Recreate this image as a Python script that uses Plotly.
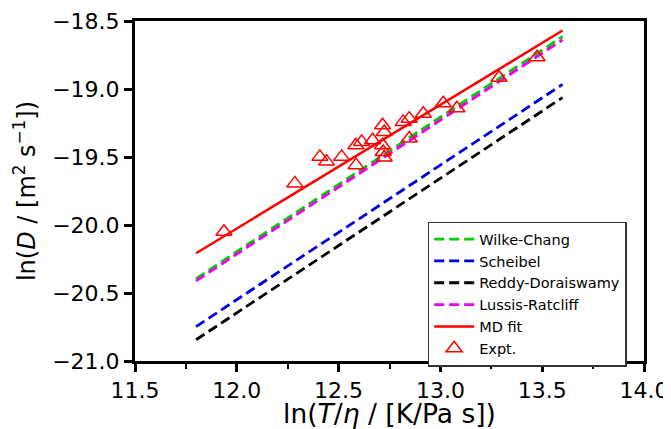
import plotly.graph_objects as go

# Model lines: endpoints at x = 11.8 and 13.6
x_line = [11.8, 13.6]
wilke_chang = [-20.394, -18.614]
scheibel = [-20.747, -18.966]
reddy_doraiswamy = [-20.844, -19.063]
lussis_ratcliff = [-20.411, -18.638]
md_fit = [-20.208, -18.570]

# Experimental points
expt_x = [11.937, 12.285, 12.408, 12.441, 12.515, 12.585, 12.586, 12.613, 12.667,
          12.716, 12.724, 12.716, 12.719, 12.724, 12.817, 12.847, 12.847, 12.916,
          13.014, 13.081, 13.288, 13.475]
expt_y = [-20.050, -19.694, -19.499, -19.534, -19.499, -19.413, -19.560, -19.389, -19.377,
          -19.267, -19.316, -19.413, -19.463, -19.504, -19.242, -19.218, -19.364, -19.182,
          -19.105, -19.141, -18.917, -18.766]

x_ticks = [11.5, 12.0, 12.5, 13.0, 13.5, 14.0]
y_ticks = [-21.0, -20.5, -20.0, -19.5, -19.0, -18.5]

FONT = "DejaVu Sans"

fig = go.Figure()
dash = "10px,5px"
for name, ys, col in [("Wilke-Chang", wilke_chang, "#00cc00"),
                      ("Scheibel", scheibel, "#0000dd"),
                      ("Reddy-Doraiswamy", reddy_doraiswamy, "#000000"),
                      ("Lussis-Ratcliff", lussis_ratcliff, "#ee00ee")]:
    fig.add_trace(go.Scatter(x=x_line, y=ys, mode="lines", name=name,
                             line=dict(color=col, width=2.8, dash=dash)))
fig.add_trace(go.Scatter(x=x_line, y=md_fit, mode="lines", name="MD fit",
                         line=dict(color="#ff0000", width=2.5)))
fig.add_trace(go.Scatter(x=expt_x, y=expt_y, mode="markers", name="Expt.",
                         marker=dict(symbol="triangle-up-open", size=14,
                                     color="#ff0000", line=dict(width=1.5, color="#ff0000"))))

# page body has an 8px default margin, so the figure is 8px smaller than the window
fig.update_layout(
    width=663, height=421,
    margin=dict(l=127, r=27, t=13, b=68),
    plot_bgcolor="white", paper_bgcolor="white",
    font=dict(family=FONT, color="black", size=20),
    showlegend=True,
    legend=dict(x=0.575, y=0.41, xanchor="left", yanchor="top",
                bgcolor="white", bordercolor="#333333", borderwidth=1.5,
                font=dict(family=FONT, size=14.5), tracegroupgap=0,
                itemwidth=40),
)
fig.update_xaxes(
    range=[11.5, 14.0], tickvals=x_ticks, ticktext=[f"{v:.1f}" for v in x_ticks],
    showgrid=False, zeroline=False, automargin=False,
    showline=True, linecolor="black", linewidth=3, mirror=True,
    ticks="outside", ticklen=8, tickwidth=2.5, tickcolor="black",
    tickfont=dict(size=22),
    minor=dict(dtick=0.25, tick0=11.5, ticks="outside", ticklen=4.5, tickwidth=2, tickcolor="black", showgrid=False),
    title=dict(text="ln(<i>T</i>/<i>η</i> / [K/Pa s])", font=dict(size=26.5), standoff=12),
)
fig.update_yaxes(
    range=[-21.0, -18.5], tickvals=y_ticks,
    ticktext=[f"\u2212{abs(v):.1f}" for v in y_ticks],
    showgrid=False, zeroline=False, automargin=False,
    showline=True, linecolor="black", linewidth=3, mirror=True,
    ticks="outside", ticklen=8, tickwidth=2.5, tickcolor="black",
    tickfont=dict(size=22),
    title=dict(text="ln(<i>D</i> / [m<sup>2</sup> s<sup>\u22121</sup>])", font=dict(size=24), standoff=10),
)

fig.write_html("out.html")
